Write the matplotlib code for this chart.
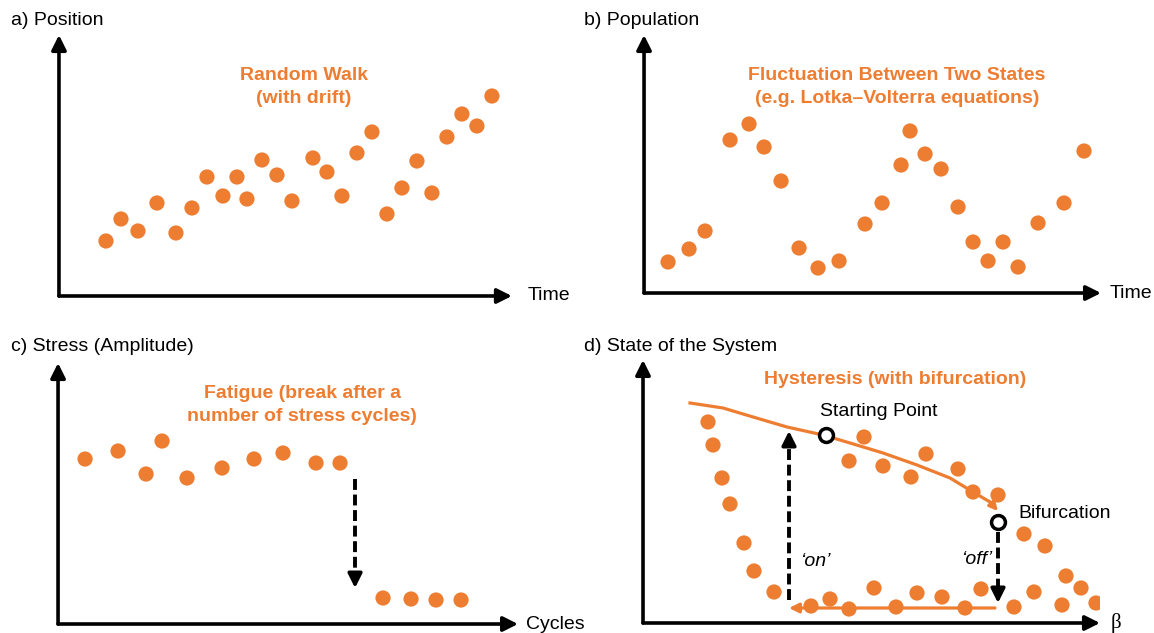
import matplotlib.pyplot as plt

plt.rcParams['font.family'] = ['Liberation Sans', 'DejaVu Sans']

ORANGE = '#ED7D31'

# a) random walk with drift
walk_t = [4.7, 6.2, 7.9, 9.8, 11.7, 13.3, 14.8, 16.4, 17.8, 18.8, 20.3, 21.8, 23.3,
          25.4, 26.8, 28.3, 29.8, 31.3, 32.8, 34.3, 35.8, 37.3, 38.8, 40.3, 41.8, 43.3]
walk_pos = [5.5, 7.7, 6.5, 9.3, 6.3, 8.8, 11.9, 10.0, 11.9, 9.7, 13.6, 12.1, 9.5,
            13.8, 12.4, 10.0, 14.3, 16.4, 8.2, 10.8, 13.5, 10.3, 15.9, 18.2, 17.0, 20.0]

# b) fluctuation between two states
pop_t = [2.4, 4.5, 6.1, 8.6, 10.5, 12.0, 13.7, 15.5, 17.4, 19.5, 22.1, 23.8,
         25.7, 26.6, 28.1, 29.7, 31.4, 32.9, 34.4, 35.9, 37.4, 39.4, 42.0, 44.0]
pop_n = [3.1, 4.4, 6.2, 15.3, 16.9, 14.6, 11.2, 4.5, 2.5, 3.2, 6.9, 9.0,
         12.8, 16.2, 13.9, 12.4, 8.6, 5.1, 3.2, 5.1, 2.6, 7.0, 9.0, 14.2]

# c) fatigue
cycles = [2.7, 6.0, 8.8, 10.4, 12.9, 16.4, 19.6, 22.5, 25.8, 28.2, 32.5, 35.3, 37.8, 40.3]
stress = [16.5, 17.3, 15.0, 18.3, 14.6, 15.6, 16.5, 17.1, 16.1, 16.1, 2.6, 2.5, 2.4, 2.4]
break_x = 29.7
break_from, break_to = 14.5, 3.6

# d) hysteresis
beta = [6.5, 7.0, 7.9, 8.7, 10.1, 11.1, 13.1,
        16.8, 18.7, 20.6, 23.1, 25.3, 27.4, 29.9, 32.2, 33.8,
        22.1, 20.6, 24.0, 28.3, 26.8, 31.5, 33.0, 35.5,
        38.1, 40.2, 42.3, 43.8, 45.3, 41.9, 39.1, 37.1]
state = [20.1, 17.8, 14.5, 11.9, 8.0, 5.2, 3.1,
         1.7, 2.4, 1.4, 3.5, 1.6, 3.0, 2.6, 1.5, 3.4,
         18.6, 16.2, 15.7, 16.9, 14.6, 15.4, 13.1, 12.8,
         8.9, 7.7, 4.7, 3.5, 2.0, 1.8, 3.1, 1.6]
upper_beta = [4.7, 8.0, 11.0, 14.4, 18.0, 20.7, 24.0, 27.4, 30.7, 33.0, 34.7]
upper_state = [22.0, 21.5, 20.6, 19.6, 18.8, 18.0, 17.0, 15.8, 14.5, 13.1, 12.1]
upper_tip = (35.5, 11.2)
lower_from, lower_to, lower_y = 35.2, 14.6, 1.5
on_x, on_from, on_to = 14.6, 2.3, 19.2
off_x, off_from, off_to = 35.5, 9.1, 2.0
start_pt = (18.3, 18.8)
bif_pt = (35.5, 10.1)

fig = plt.figure(figsize=(11.54, 6.33), dpi=100)


def make_axes(rect, xmax, ymax, xlabel, pad=9, label_kw=None):
    ax = fig.add_axes(rect)
    ax.set_xlim(0, xmax)
    ax.set_ylim(0, ymax)
    ax.axis('off')
    ap = dict(arrowstyle='-|>', lw=2.6, color='black', mutation_scale=22,
              shrinkA=0, shrinkB=0)
    ax.annotate('', xy=(1, 0), xytext=(0, 0), xycoords='axes fraction', arrowprops=ap)
    ax.annotate('', xy=(0, 1), xytext=(0, 0), xycoords='axes fraction', arrowprops=ap)
    kw = dict(fontsize=14)
    if label_kw:
        kw.update(label_kw)
    ax.annotate(xlabel, xy=(1, 0), xycoords='axes fraction', xytext=(pad, 0),
                textcoords='offset points', va='center', ha='left', **kw)
    return ax


def dashed_arrow(ax, x, y0, y1):
    # dashed shaft plus a solid filled head
    head = 0.9 if y1 > y0 else -0.9
    ax.plot([x, x], [y0, y1 - head], color='black', lw=2.8,
            linestyle=(0, (2.8, 1.2)), zorder=5)
    ax.annotate('', xy=(x, y1), xytext=(x, y1 - head * 1.2),
                arrowprops=dict(arrowstyle='-|>', lw=2.6, color='black',
                                mutation_scale=21, shrinkA=0, shrinkB=0), zorder=5)


dot = dict(s=120, color=ORANGE, edgecolors='none', zorder=3)
title_kw = dict(color=ORANGE, fontsize=14, fontweight='bold', ha='center',
                va='center', linespacing=1.45)

# panel a
ax = make_axes([0.0511, 0.5324, 0.3925, 0.4123], 45.3, 26.1, 'Time', pad=11)
ax.scatter(walk_t, walk_pos, **dot)
ax.text(24.5, 20.9, 'Random Walk\n(with drift)', **title_kw)

# panel b
ax = make_axes([0.5581, 0.5371, 0.3960, 0.4076], 45.7, 25.8, 'Time', pad=6)
ax.scatter(pop_t, pop_n, **dot)
ax.text(25.3, 20.6, 'Fluctuation Between Two States\n(e.g. Lotka\u2013Volterra equations)',
        **title_kw)

# panel c
ax = make_axes([0.0503, 0.0142, 0.3986, 0.4123], 46.0, 26.1, 'Cycles', pad=6)
ax.scatter(cycles, stress, **dot)
ax.text(24.4, 21.9, 'Fatigue (break after a\nnumber of stress cycles)', **title_kw)
dashed_arrow(ax, break_x, break_from, break_to)

# panel d
ax = make_axes([0.5572, 0.0158, 0.3960, 0.4155], 45.7, 26.3, '\u03b2', pad=8,
               label_kw=dict(family=['Liberation Serif', 'DejaVu Serif'], fontsize=15))
ax.scatter(beta, state, **dot)
ax.text(25.2, 24.3, 'Hysteresis (with bifurcation)', **title_kw)
ax.plot(upper_beta, upper_state, color=ORANGE, lw=2.3, zorder=4,
        solid_joinstyle='round')
ax.annotate('', xy=upper_tip, xytext=(upper_beta[-1], upper_state[-1]),
            arrowprops=dict(arrowstyle='-|>', lw=2.3, color=ORANGE, mutation_scale=12,
                            shrinkA=0, shrinkB=0), zorder=4)
ax.annotate('', xy=(lower_to, lower_y), xytext=(lower_from, lower_y),
            arrowprops=dict(arrowstyle='-|>', lw=2.3, color=ORANGE, mutation_scale=14,
                            shrinkA=0, shrinkB=0), zorder=4)
dashed_arrow(ax, on_x, on_from, on_to)
dashed_arrow(ax, off_x, off_from, off_to)
ax.plot(*start_pt, 'o', ms=10, mfc='white', mec='black', mew=2.5, zorder=6)
ax.plot(*bif_pt, 'o', ms=10, mfc='white', mec='black', mew=2.5, zorder=6)
ax.text(17.7, 21.1, 'Starting Point', fontsize=14, va='center', ha='left')
ax.text(37.5, 10.9, 'Bifurcation', fontsize=14, va='center', ha='left')
ax.text(15.7, 6.1, '\u2018on\u2019', fontsize=14, style='italic', va='center', ha='left')
ax.text(34.9, 6.3, '\u2018off\u2019', fontsize=14, style='italic', va='center', ha='right')

# panel labels
fig.text(0.0095, 0.968, 'a) Position', fontsize=14, va='center')
fig.text(0.506, 0.968, 'b) Population', fontsize=14, va='center')
fig.text(0.0095, 0.452, 'c) Stress (Amplitude)', fontsize=14, va='center')
fig.text(0.506, 0.453, 'd) State of the System', fontsize=14, va='center')

fig.savefig('out.png', dpi=100)
